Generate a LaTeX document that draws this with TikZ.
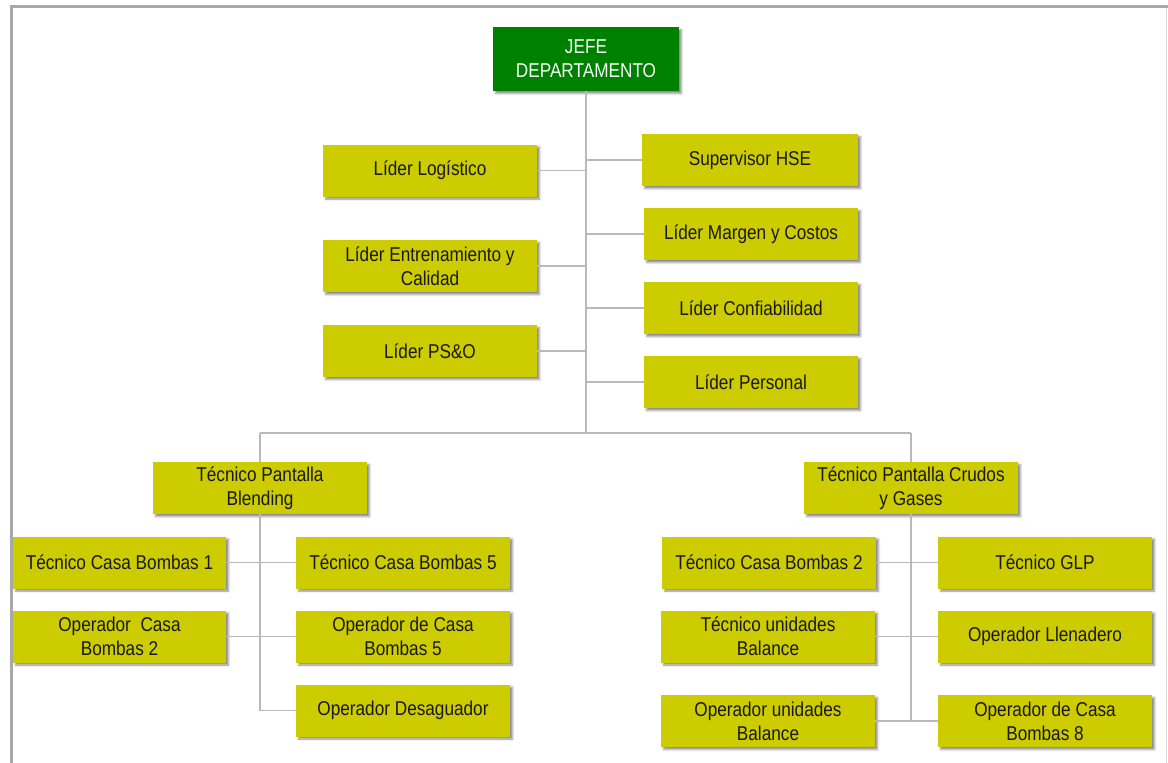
\documentclass[tikz,border=0pt]{standalone}
\usepackage{fontspec}
\setmainfont{Liberation Sans}[FakeStretch=0.86]
\usetikzlibrary{shadows.blur}
\definecolor{boxolive}{RGB}{204,204,0}
\definecolor{boxgreen}{RGB}{0,128,0}
\definecolor{wire}{RGB}{185,185,185}
\definecolor{framegray}{RGB}{168,168,168}
\begin{document}
\begin{tikzpicture}[x=1pt,y=-1pt,
  orgbox/.style={fill=boxolive, text=black!90, align=center, inner sep=0pt,
    minimum width=214pt, minimum height=52pt,
    font=\fontsize{20}{24}\selectfont,
    blur shadow={shadow xshift=2.5pt, shadow yshift=-2.5pt, shadow blur radius=2pt, shadow opacity=45}},
  headbox/.style={orgbox, fill=boxgreen, text=white!94!green, minimum width=186pt, minimum height=64pt},
  link/.style={draw=wire, line width=1.5pt}]
\useasboundingbox (0,0) rectangle (1168,763);
% page frame
\draw[framegray, line width=3pt] (9.5,6.5) -- (1168,6.5);
\draw[framegray, line width=3pt] (11,5) -- (11,763);
\draw[black!15, line width=1pt] (1166.5,8) -- (1166.5,763);

% head
\node[headbox] (jefe) at (586,59) {JEFE\\DEPARTAMENTO};

% staff positions
\node[orgbox] (logistico) at (430,170.5) {Líder Logístico};
\node[orgbox] (entren) at (430,266) {Líder Entrenamiento y\\Calidad};
\node[orgbox] (pso) at (430,351) {Líder PS\&O};
\node[orgbox, minimum width=216pt] (hse) at (750,160) {Supervisor HSE};
\node[orgbox] (margen) at (751,234) {Líder Margen y Costos};
\node[orgbox] (confiab) at (751,308) {Líder Confiabilidad};
\node[orgbox] (personal) at (751,382) {Líder Personal};

% control room technicians
\node[orgbox] (blending) at (260,488) {Técnico Pantalla\\Blending};
\node[orgbox] (crudos) at (911,488) {Técnico Pantalla Crudos\\y Gases};

% Blending branch
\node[orgbox, minimum width=213pt] (tcb1) at (119.5,562.5) {Técnico Casa Bombas 1};
\node[orgbox, minimum width=213pt] (ocb2) at (119.5,636.5) {Operador~ Casa\\Bombas 2};
\node[orgbox] (tcb5) at (403,562.5) {Técnico Casa Bombas 5};
\node[orgbox] (ocb5) at (403,636.5) {Operador de Casa\\Bombas 5};
\node[orgbox] (desag) at (403,710.5) {Operador Desaguador};

% Crudos y Gases branch
\node[orgbox] (tcb2) at (769,562.5) {Técnico Casa Bombas 2};
\node[orgbox] (tub) at (768,636.5) {Técnico unidades\\Balance};
\node[orgbox] (oub) at (768,721) {Operador unidades\\Balance};
\node[orgbox] (glp) at (1045,562.5) {Técnico GLP};
\node[orgbox] (llen) at (1045,636.5) {Operador Llenadero};
\node[orgbox] (ocb8) at (1045,721) {Operador de Casa\\Bombas 8};

% junction points
\coordinate (spineend) at (586,433);
\coordinate (busL) at (260,433);
\coordinate (busR) at (911,433);
\coordinate (blendend) at (260,710.5);
\coordinate (crudend) at (911,721);

% connectors
\draw[link] (jefe.south) -- (spineend);
\draw[link] (busL) -- (busR);
\foreach \n in {logistico,entren,pso} \draw[link] (\n.east) -- (\n.east -| jefe.south);
\foreach \n in {hse,margen,confiab,personal} \draw[link] (\n.west) -- (\n.west -| jefe.south);
\draw[link] (busL) -- (blending.north);
\draw[link] (busR) -- (crudos.north);
\draw[link] (blending.south) -- (blendend);
\draw[link] (crudos.south) -- (crudend);
\draw[link] (tcb1.east) -- (tcb5.west);
\draw[link] (ocb2.east) -- (ocb5.west);
\draw[link] (blendend) -- (desag.west);
\draw[link] (tcb2.east) -- (glp.west);
\draw[link] (tub.east) -- (llen.west);
\draw[link] (oub.east) -- (ocb8.west);
\end{tikzpicture}
\end{document}
